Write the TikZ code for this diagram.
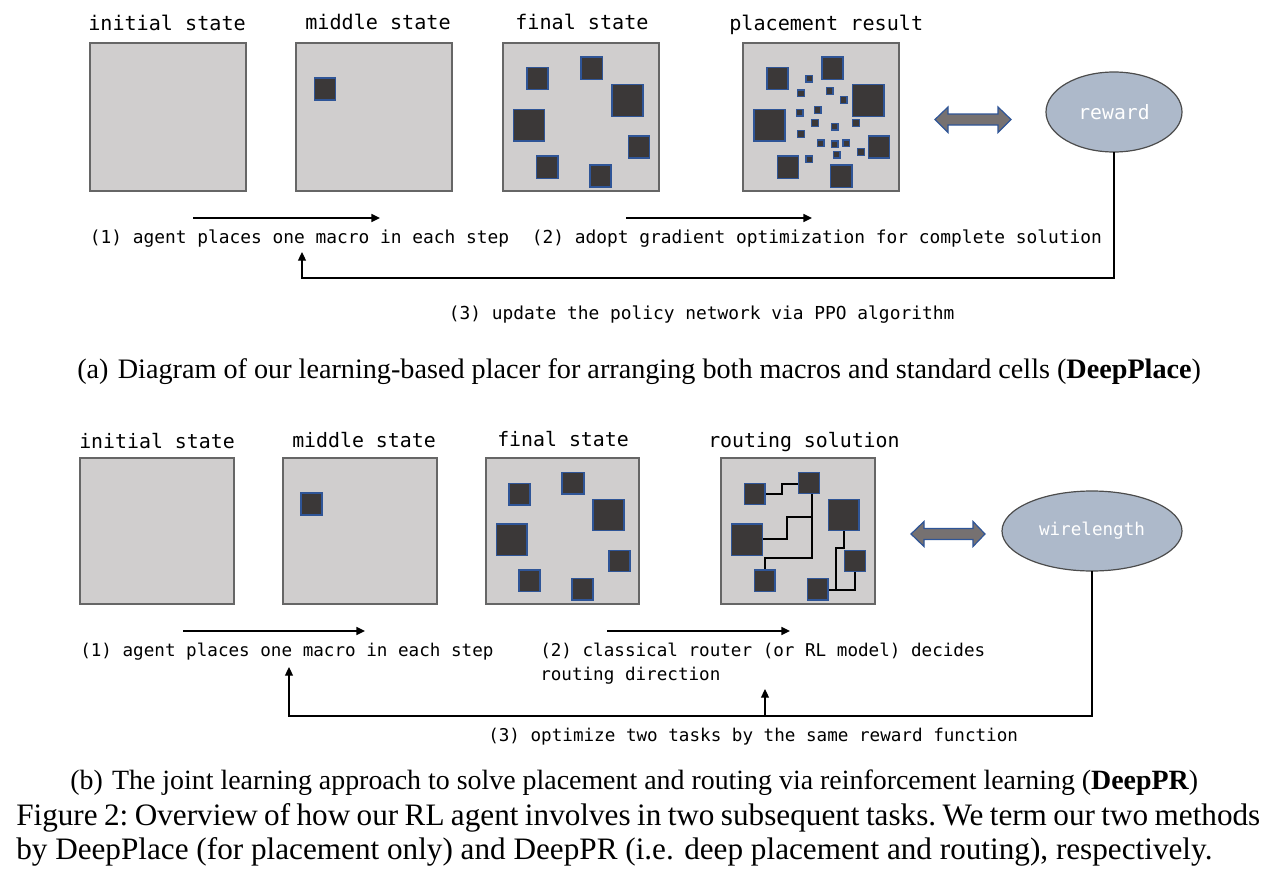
\documentclass[tikz,border=0pt]{standalone}
\usepackage{fontspec}
\setmainfont{Liberation Serif}
\newfontfamily\monof{DejaVu Sans Mono}
\usetikzlibrary{arrows.meta,shapes.geometric}
\definecolor{panelfill}{HTML}{D0CECE}
\definecolor{paneledge}{HTML}{666666}
\definecolor{macrofill}{HTML}{3B3838}
\definecolor{macroedge}{HTML}{2F5597}
\definecolor{ellfill}{HTML}{ADB9CA}
\definecolor{arrfill}{HTML}{767171}
\tikzset{
 x=0.75pt,y=-0.75pt,
 panel/.style={draw=paneledge,fill=panelfill,line width=1pt,inner sep=0pt,outer sep=0pt},
 macrob/.style={draw=macroedge,fill=macrofill,line width=0.9pt,inner sep=0pt,outer sep=0pt},
 cellb/.style={draw=macroedge,fill=macrofill,line width=1pt,inner sep=0pt,outer sep=0pt,minimum width=4.8pt,minimum height=4.8pt},
 monotext/.style={font=\monof\fontsize{13.4pt}{18pt}\selectfont,text=black,inner sep=0pt,anchor=base west},
 monob/.style={font=\monof\fontsize{13.2pt}{18pt}\selectfont,text=black,inner sep=0pt,anchor=base west},
 labela/.style={font=\monof\fontsize{15.1pt}{18pt}\selectfont,text=black,inner sep=0pt,anchor=base west},
 labelb/.style={font=\monof\fontsize{14.9pt}{18pt}\selectfont,text=black,inner sep=0pt,anchor=base west},
 captexta/.style={font=\fontsize{21.14pt}{25pt}\selectfont,text=black,inner sep=0pt,anchor=base west},
 captextb/.style={font=\fontsize{20.92pt}{25pt}\selectfont,text=black,inner sep=0pt,anchor=base west},
 figtext/.style={font=\fontsize{23.4pt}{27pt}\selectfont,text=black,inner sep=0pt,anchor=base west},
 flow/.style={draw=black,line width=1.2pt,-{Triangle[length=6.5pt,width=6pt]}},
 feedback/.style={draw=black,line width=0.85pt,-{Triangle[length=6.5pt,width=6pt]}},
 wire/.style={draw=black,line width=1.5pt},
 dbl/.style={draw=macroedge,fill=arrfill,line width=0.9pt},
 ell/.style={ellipse,draw=black!70,fill=ellfill,line width=0.9pt,inner sep=0pt,outer sep=0pt,text=white},
}
\newcommand{\bx}[6]{% style name x1 y1 x2 y2
 \pgfmathsetmacro{\bw}{(#5-#3)*0.75}\pgfmathsetmacro{\bh}{(#6-#4)*0.75}
 \node[#1,minimum width=\bw pt,minimum height=\bh pt] (#2) at ({(#3+#5)/2},{(#4+#6)/2}) {};}
\begin{document}
\begin{tikzpicture}
\useasboundingbox (0,0) rectangle (1265,878);
% ---- panel a
\bx{panel}{a1}{90}{43}{246}{191}
\bx{panel}{a2}{296}{43}{452}{191}
\bx{panel}{a3}{503}{43}{659}{191}
\bx{panel}{a4}{743}{43}{899}{191}
\node[labela] (la1) at (88,31) {initial state};
\node[labela] (la2) at (305,30) {middle state};
\node[labela] (la3) at (515,30) {final state};
\node[labela] (la4) at (729,31) {placement result};
\bx{macrob}{am0}{314.5}{78}{335.5}{100}
% final a
\bx{macrob}{af1}{527}{67.5}{548}{89.5}
\bx{macrob}{af2}{581}{57}{602.5}{79.5}
\bx{macrob}{af3}{612}{84.5}{643}{116.5}
\bx{macrob}{af4}{513.5}{109.5}{544.5}{141}
\bx{macrob}{af5}{628.5}{136}{649.5}{158}
\bx{macrob}{af6}{536.5}{156}{558}{178.5}
\bx{macrob}{af7}{590}{165}{611}{187}
% placement a
\bx{macrob}{ap1}{767}{67.5}{788}{89.5}
\bx{macrob}{ap2}{822}{57}{843}{79.5}
\bx{macrob}{ap3}{852.5}{84.5}{884}{116.5}
\bx{macrob}{ap4}{754}{109.5}{785}{141}
\bx{macrob}{ap5}{868.5}{136}{889.5}{158}
\bx{macrob}{ap6}{777.5}{156}{798.5}{178.5}
\bx{macrob}{ap7}{830.5}{165}{852}{187.5}
\foreach \n/\X/\Y in {1/238/146,2/213/190,3/299/183,4/341/210,5/209/248,6/263/240,7/255/279,8/314/290,9/378/279,10/213/312,11/272/340,12/314/343,13/349/340,14/393/366,15/320/374,16/238/388}{
 \node[cellb] (c\n) at ({730+\X/3},{30+\Y/3}) {};
}
% double arrow a
\draw[dbl] (935,119.5) -- (948,107) -- (948,114) -- (998,114) -- (998,107) -- (1011,119.5) -- (998,132.5) -- (998,125) -- (948,125) -- (948,132.5) -- cycle;
\node[ell,font=\monof\fontsize{14.8pt}{16pt}\selectfont,minimum width=102pt,minimum height=60pt] (reward) at (1114,112) {reward};
\coordinate (fa1s) at (193,218); \coordinate (fa1e) at (380,218);
\coordinate (fa2s) at (626,218); \coordinate (fa2e) at (812,218);
\draw[flow] (fa1s) -- (fa1e);
\draw[flow] (fa2s) -- (fa2e);
\node[monotext] (t1) at (89.5,243) {(1) agent places one macro in each step};
\node[monotext] (t2) at (531.5,243) {(2) adopt gradient optimization for complete solution};
\node[monotext] (t3) at (448.5,319) {(3) update the policy network via PPO algorithm};
\coordinate (fbk1) at (1114,278); \coordinate (fbk2) at (302,278); \coordinate (fbk3) at (302,252);
\draw[feedback] (reward.south) -- (fbk1) -- (fbk2) -- (fbk3);
\node[captexta] (capa) at (77,378) {(a)\hspace{7pt}Diagram of our learning-based placer for arranging both macros and standard cells (\textbf{DeepPlace})};
% ---- panel b
\bx{panel}{b1}{80}{458}{234}{604}
\bx{panel}{b2}{283}{458}{437}{604}
\bx{panel}{b3}{486}{458}{639}{604}
\bx{panel}{b4}{721}{458}{875}{604}
\node[labelb] (lb1) at (79,448) {initial state};
\node[labelb] (lb2) at (292,447) {middle state};
\node[labelb] (lb3) at (497,446) {final state};
\node[labelb] (lb4) at (708,447) {routing solution};
\bx{macrob}{bm0}{301}{493}{322}{515}
\bx{macrob}{bf1}{509}{483.5}{530}{505}
\bx{macrob}{bf2}{562}{472.5}{584}{494}
\bx{macrob}{bf3}{593}{499.5}{624}{530.5}
\bx{macrob}{bf4}{496.5}{524}{527}{555.5}
\bx{macrob}{bf5}{609}{550.5}{630}{571.5}
\bx{macrob}{bf6}{519}{570}{540}{591.5}
\bx{macrob}{bf7}{572}{578.5}{593}{600}
% wires
\draw[wire] (765,494.3) -- (781.7,494.3) -- (781.7,483.7) -- (798.7,483.7);
\draw[wire] (812,493.7) -- (812,558.3) -- (764.7,558.3) -- (764.7,570);
\draw[wire] (762.7,539.3) -- (787,539.3) -- (787,516.7) -- (812,516.7);
\draw[wire] (844.3,530.3) -- (844.3,547.7) -- (836,547.7) -- (836,590);
\draw[wire] (828,590) -- (855,590) -- (855,571.3);
\bx{macrob}{br1}{744.7}{483.3}{765}{504.7}
\bx{macrob}{br2}{798.7}{472.7}{819.3}{493.7}
\bx{macrob}{br3}{828.3}{499.3}{859}{530.3}
\bx{macrob}{br4}{731.3}{524}{762.7}{555.3}
\bx{macrob}{br5}{844.7}{550.3}{865.7}{571.3}
\bx{macrob}{br6}{754.3}{570}{775}{591.3}
\bx{macrob}{br7}{807.3}{578.7}{828}{600}
% double arrow b
\draw[dbl] (911,534) -- (924,521.5) -- (924,528.5) -- (973,528.5) -- (973,521.5) -- (985,534) -- (973,546.5) -- (973,539.5) -- (924,539.5) -- (924,546.5) -- cycle;
\node[ell,font=\monof\fontsize{13.2pt}{16pt}\selectfont,minimum width=135pt,minimum height=60pt] (wl) at (1092,531) {wirelength};
\coordinate (fb1s) at (183,631); \coordinate (fb1e) at (365,631);
\coordinate (fb2s) at (607,631); \coordinate (fb2e) at (790,631);
\draw[flow] (fb1s) -- (fb1e);
\draw[flow] (fb2s) -- (fb2e);
\node[monob] (u1) at (80,656) {(1) agent places one macro in each step};
\node[monob] (u2) at (540,656) {(2) classical router (or RL model) decides};
\node[monob] (u2b) at (540,680) {routing direction};
\node[monob] (u3) at (488,741) {(3) optimize two tasks by the same reward function};
\coordinate (g1) at (1092,716); \coordinate (g2) at (289,716); \coordinate (g3) at (289,667);
\coordinate (g4) at (765,716); \coordinate (g5) at (765,689);
\draw[feedback] (wl.south) -- (g1) -- (g2) -- (g3);
\draw[feedback] (g4) -- (g5);
\node[captextb] (capb) at (70,789.5) {(b)\hspace{7pt}The joint learning approach to solve placement and routing via reinforcement learning (\textbf{DeepPR})};
\node[figtext] (fig1) at (16,825.5) {\frenchspacing\spaceskip=4.8pt Figure 2: Overview of how our RL agent involves in two subsequent tasks. We term our two methods};
\node[figtext] (fig2) at (16,859.5) {by DeepPlace (for placement only) and DeepPR (i.e. deep placement and routing), respectively.};
\end{tikzpicture}
\end{document}
